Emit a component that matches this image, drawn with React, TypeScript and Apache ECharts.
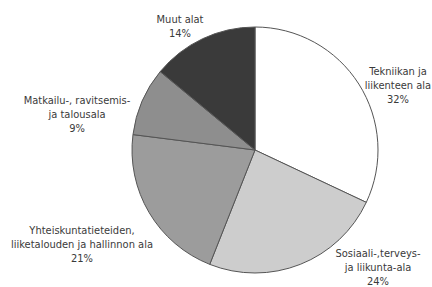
import React, { useEffect, useRef } from "react";
import * as echarts from "echarts";

const categories = [
  "Tekniikan ja\nliikenteen ala",
  "Sosiaali-,terveys-\nja liikunta-ala",
  "Yhteiskuntatieteiden,\nliiketalouden ja hallinnon ala",
  "Matkailu-, ravitsemis-\nja talousala",
  "Muut alat",
];
const values = [32, 24, 21, 9, 14];
const colors = ["#ffffff", "#cdcdcd", "#9c9c9c", "#8e8e8e", "#3a3a3a"];
const labelPos = [
  [398, 85],
  [378, 267],
  [82, 244],
  [77, 114],
  [180, 26],
];

export default function App() {
  const ref = useRef<HTMLDivElement>(null);
  useEffect(() => {
    document.body.style.margin = "0";
    const chart = echarts.init(ref.current!, undefined, { renderer: "svg" });
    chart.setOption({
      animation: false,
      backgroundColor: "#ffffff",
      series: [
        {
          type: "pie",
          center: [255, 150],
          radius: 123,
          startAngle: 90,
          clockwise: true,
          data: categories.map((c, i) => ({
            name: c,
            value: values[i],
            itemStyle: { color: colors[i] },
          })),
          itemStyle: { borderColor: "#555", borderWidth: 1 },
          label: {
            show: true,
            position: "outside",
            formatter: (p: any) => `${p.name}\n${p.value}%`,
            fontFamily: "'DejaVu Sans Condensed', sans-serif",
            fontSize: 11,
            lineHeight: 14,
            color: "#3a3a3a",
            align: "center",
            overflow: "none",
            width: 200,
          },
          labelLine: { show: false },
          labelLayout: (params: any) => ({
            x: labelPos[params.dataIndex][0],
            y: labelPos[params.dataIndex][1],
            align: "center",
            verticalAlign: "middle",
          }),
          emphasis: { disabled: true },
        },
      ],
    });
    return () => chart.dispose();
  }, []);
  return <div ref={ref} style={{ width: 432, height: 287 }} />;
}
